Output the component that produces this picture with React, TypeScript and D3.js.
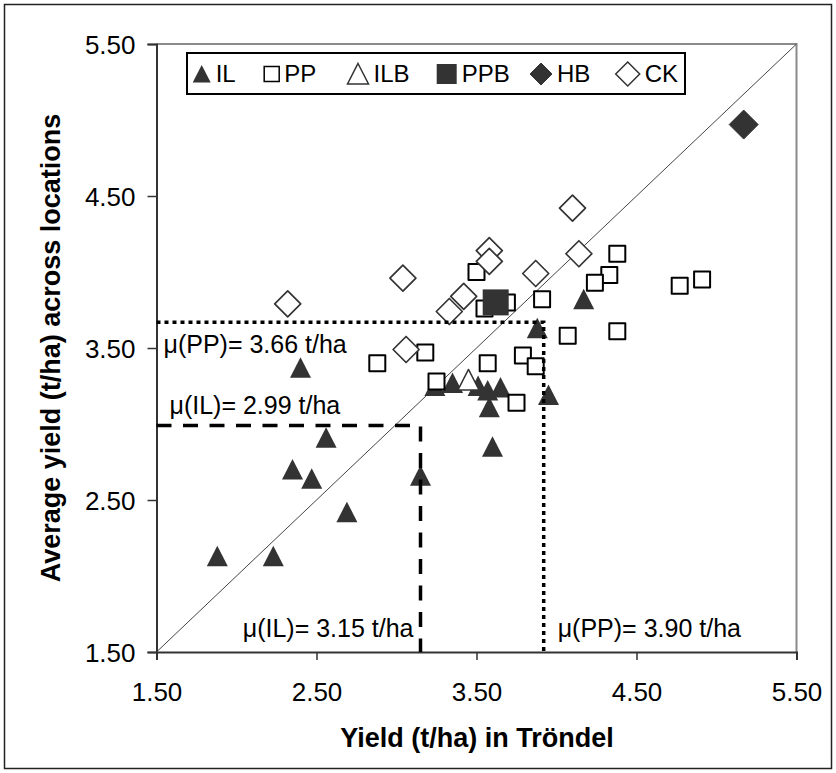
import React, { useEffect, useRef } from 'react';
import * as d3 from 'd3';

type Pt = [number, number];

// axis ticks (t/ha)
const tickValues = [1.5, 2.5, 3.5, 4.5, 5.5];

// [yield in Tröndel, average yield across locations]
const ilData: Pt[] = [
  [1.88, 2.13], [2.23, 2.13], [2.4, 3.37], [2.56, 2.91], [2.35, 2.7],
  [2.47, 2.64], [2.69, 2.42], [3.15, 2.66], [3.6, 2.85], [3.58, 3.11],
  [3.57, 3.22], [3.65, 3.24], [3.51, 3.25], [3.35, 3.27], [3.24, 3.25],
  [3.95, 3.19], [3.88, 3.63], [4.17, 3.82],
];
const ppData: Pt[] = [
  [3.5, 4.0], [4.38, 4.12], [4.33, 3.98], [4.24, 3.93], [4.77, 3.91],
  [4.91, 3.95], [3.55, 3.76], [3.69, 3.8], [3.91, 3.82], [4.07, 3.58],
  [4.38, 3.61], [3.18, 3.47], [3.57, 3.4], [3.79, 3.45], [3.87, 3.38],
  [2.88, 3.4], [3.25, 3.28], [3.75, 3.14],
];
const ilbData: Pt[] = [[3.45, 3.29]];
const ppbData: Pt[] = [[3.62, 3.8]];
const hbData: Pt[] = [[5.17, 4.97]];
const ckData: Pt[] = [
  [2.32, 3.79], [3.04, 3.96], [3.33, 3.74], [3.42, 3.84], [4.1, 4.42],
  [3.58, 4.14], [3.58, 4.07], [4.14, 4.12], [3.87, 3.99], [3.06, 3.49],
];

const legendNames = ['IL', 'PP', 'ILB', 'PPB', 'HB', 'CK'];

// group means
const meanIL = { x: 3.15, y: 2.99, xText: 'μ(IL)= 3.15 t/ha', yText: 'μ(IL)= 2.99 t/ha' };
const meanPP = { x: 3.92, y: 3.67, xText: 'μ(PP)= 3.90 t/ha', yText: 'μ(PP)= 3.66 t/ha' };

const DARK = '#333333';
const FONT = '"Liberation Sans", Arial, sans-serif';

const shapes: Record<string, (s: number) => string> = {
  triangle: (s) => `M0,${-s}L${s},${s * 0.95}L${-s},${s * 0.95}Z`,
  square: (s) => `M${-s},${-s}h${2 * s}v${2 * s}h${-2 * s}Z`,
  diamond: (s) => `M0,${-s}L${s},0L0,${s}L${-s},0Z`,
};

const styles = [
  { key: 'IL', shape: 'triangle', size: 10.5, fill: DARK, stroke: 'none', sw: 0 },
  { key: 'PP', shape: 'square', size: 8, fill: '#fff', stroke: '#000', sw: 2 },
  { key: 'ILB', shape: 'triangle', size: 10.5, fill: '#fff', stroke: DARK, sw: 1.5 },
  { key: 'PPB', shape: 'square', size: 13, fill: DARK, stroke: 'none', sw: 0 },
  { key: 'HB', shape: 'diamond', size: 14.5, fill: DARK, stroke: DARK, sw: 1 },
  { key: 'CK', shape: 'diamond', size: 13, fill: '#fff', stroke: DARK, sw: 1.7 },
];
const legendSizes = [9, 7.5, 10.5, 10, 11, 12];
const legendX = [201.7, 271.7, 358, 446.7, 541, 627.7];

function YieldChart() {
  const ref = useRef<SVGSVGElement | null>(null);

  useEffect(() => {
    const svg = d3.select(ref.current);
    svg.selectAll('*').remove();

    const x = d3.scaleLinear().domain([1.5, 5.5]).range([156.5, 796.5]);
    const y = d3.scaleLinear().domain([1.5, 5.5]).range([652, 44]);

    svg.append('rect').attr('width', 836).attr('height', 773).attr('fill', '#fff');
    svg.append('rect')
      .attr('x', 4.5).attr('y', 4.5).attr('width', 827).attr('height', 764)
      .attr('fill', 'none').attr('stroke', '#222').attr('stroke-width', 1.5);

    // plot frame (top/right)
    svg.append('path')
      .attr('d', `M${x(1.5)},${y(5.5)}H${x(5.5)}V${y(1.5)}`)
      .attr('fill', 'none').attr('stroke', '#8a8a8a').attr('stroke-width', 2);

    // 1:1 line
    svg.append('line')
      .attr('x1', x(1.5)).attr('y1', y(1.5)).attr('x2', x(5.5)).attr('y2', y(5.5))
      .attr('stroke', '#444').attr('stroke-width', 1);

    const fmt = d3.format('.2f');
    const xAxis = svg.append('g')
      .attr('transform', `translate(0,${y(1.5)})`)
      .call(d3.axisBottom(x).tickValues(tickValues).tickSize(8).tickFormat((d) => fmt(d as number)));
    const yAxis = svg.append('g')
      .attr('transform', `translate(${x(1.5)},0)`)
      .call(d3.axisLeft(y).tickValues(tickValues).tickSize(9).tickPadding(12).tickFormat((d) => fmt(d as number)));

    [xAxis, yAxis].forEach((g) => {
      g.select('.domain').attr('stroke', DARK).attr('stroke-width', 2);
      g.selectAll('.tick line').attr('stroke', DARK).attr('stroke-width', 1.5);
      g.selectAll('.tick text')
        .attr('fill', '#000').attr('font-family', FONT).attr('font-size', 26);
    });
    xAxis.selectAll('.tick text').attr('y', 48.5).attr('dy', 0);
    yAxis.selectAll('.tick text').attr('dy', '0.36em');

    // markers
    const series: Pt[][] = [ilData, ppData, ilbData, ppbData, hbData, ckData];
    series.forEach((data, i) => {
      const st = styles[i];
      svg.append('g')
        .selectAll('path')
        .data(data)
        .enter()
        .append('path')
        .attr('transform', (d) => `translate(${x(d[0])},${y(d[1])})`)
        .attr('d', shapes[st.shape](st.size))
        .attr('fill', st.fill)
        .attr('stroke', st.stroke)
        .attr('stroke-width', st.sw)
        .attr('stroke-linejoin', 'round');
    });

    // mean lines
    const drawMean = (m: typeof meanIL, dash: string, w: number) => {
      svg.append('path')
        .attr('d', `M${x(1.5)},${y(m.y)}H${x(m.x)}V${y(1.5)}`)
        .attr('fill', 'none').attr('stroke', '#000')
        .attr('stroke-width', w).attr('stroke-dasharray', dash);
    };
    drawMean(meanIL, '15,11.5', 3.5);
    drawMean(meanPP, '4,4', 3.5);

    const label = (t: string, lx: number, ly: number, anchor = 'start') =>
      svg.append('text')
        .attr('x', lx).attr('y', ly).attr('text-anchor', anchor)
        .attr('font-family', FONT).attr('font-size', 25).attr('fill', '#000')
        .text(t);
    label(meanPP.yText, x(1.5) + 7, y(meanPP.y) + 31);
    label(meanIL.yText, x(1.5) + 13, y(meanIL.y) - 12);
    label(meanIL.xText, x(meanIL.x) - 7, y(1.5) - 15, 'end');
    label(meanPP.xText, x(meanPP.x) + 14, y(1.5) - 15);

    // legend
    const lg = svg.append('g');
    lg.append('rect')
      .attr('x', 187).attr('y', 53).attr('width', 498).attr('height', 41)
      .attr('fill', '#fff').attr('stroke', '#000').attr('stroke-width', 2);
    legendNames.forEach((name, i) => {
      const st = styles[i];
      const cx = legendX[i];
      lg.append('path')
        .attr('transform', `translate(${cx},74)`)
        .attr('d', shapes[st.shape](legendSizes[i]))
        .attr('fill', st.fill).attr('stroke', st.stroke)
        .attr('stroke-width', Math.min(st.sw, 1.5));
      lg.append('text')
        .attr('x', cx + legendSizes[i] + 5).attr('y', 82)
        .attr('font-family', FONT).attr('font-size', 24).attr('fill', '#000')
        .text(name);
    });

    // axis titles
    svg.append('text')
      .attr('x', 477).attr('y', 747).attr('text-anchor', 'middle')
      .attr('font-family', FONT).attr('font-size', 27).attr('font-weight', 'bold')
      .text('Yield (t/ha) in Tröndel');
    svg.append('text')
      .attr('transform', 'translate(60,348) rotate(-90)').attr('text-anchor', 'middle')
      .attr('font-family', FONT).attr('font-size', 27).attr('font-weight', 'bold')
      .text('Average yield (t/ha) across locations');
  }, []);

  return <svg ref={ref} width={836} height={773} style={{ position: 'absolute', left: 0, top: 0 }} />;
}

export default function App() {
  return <YieldChart />;
}
